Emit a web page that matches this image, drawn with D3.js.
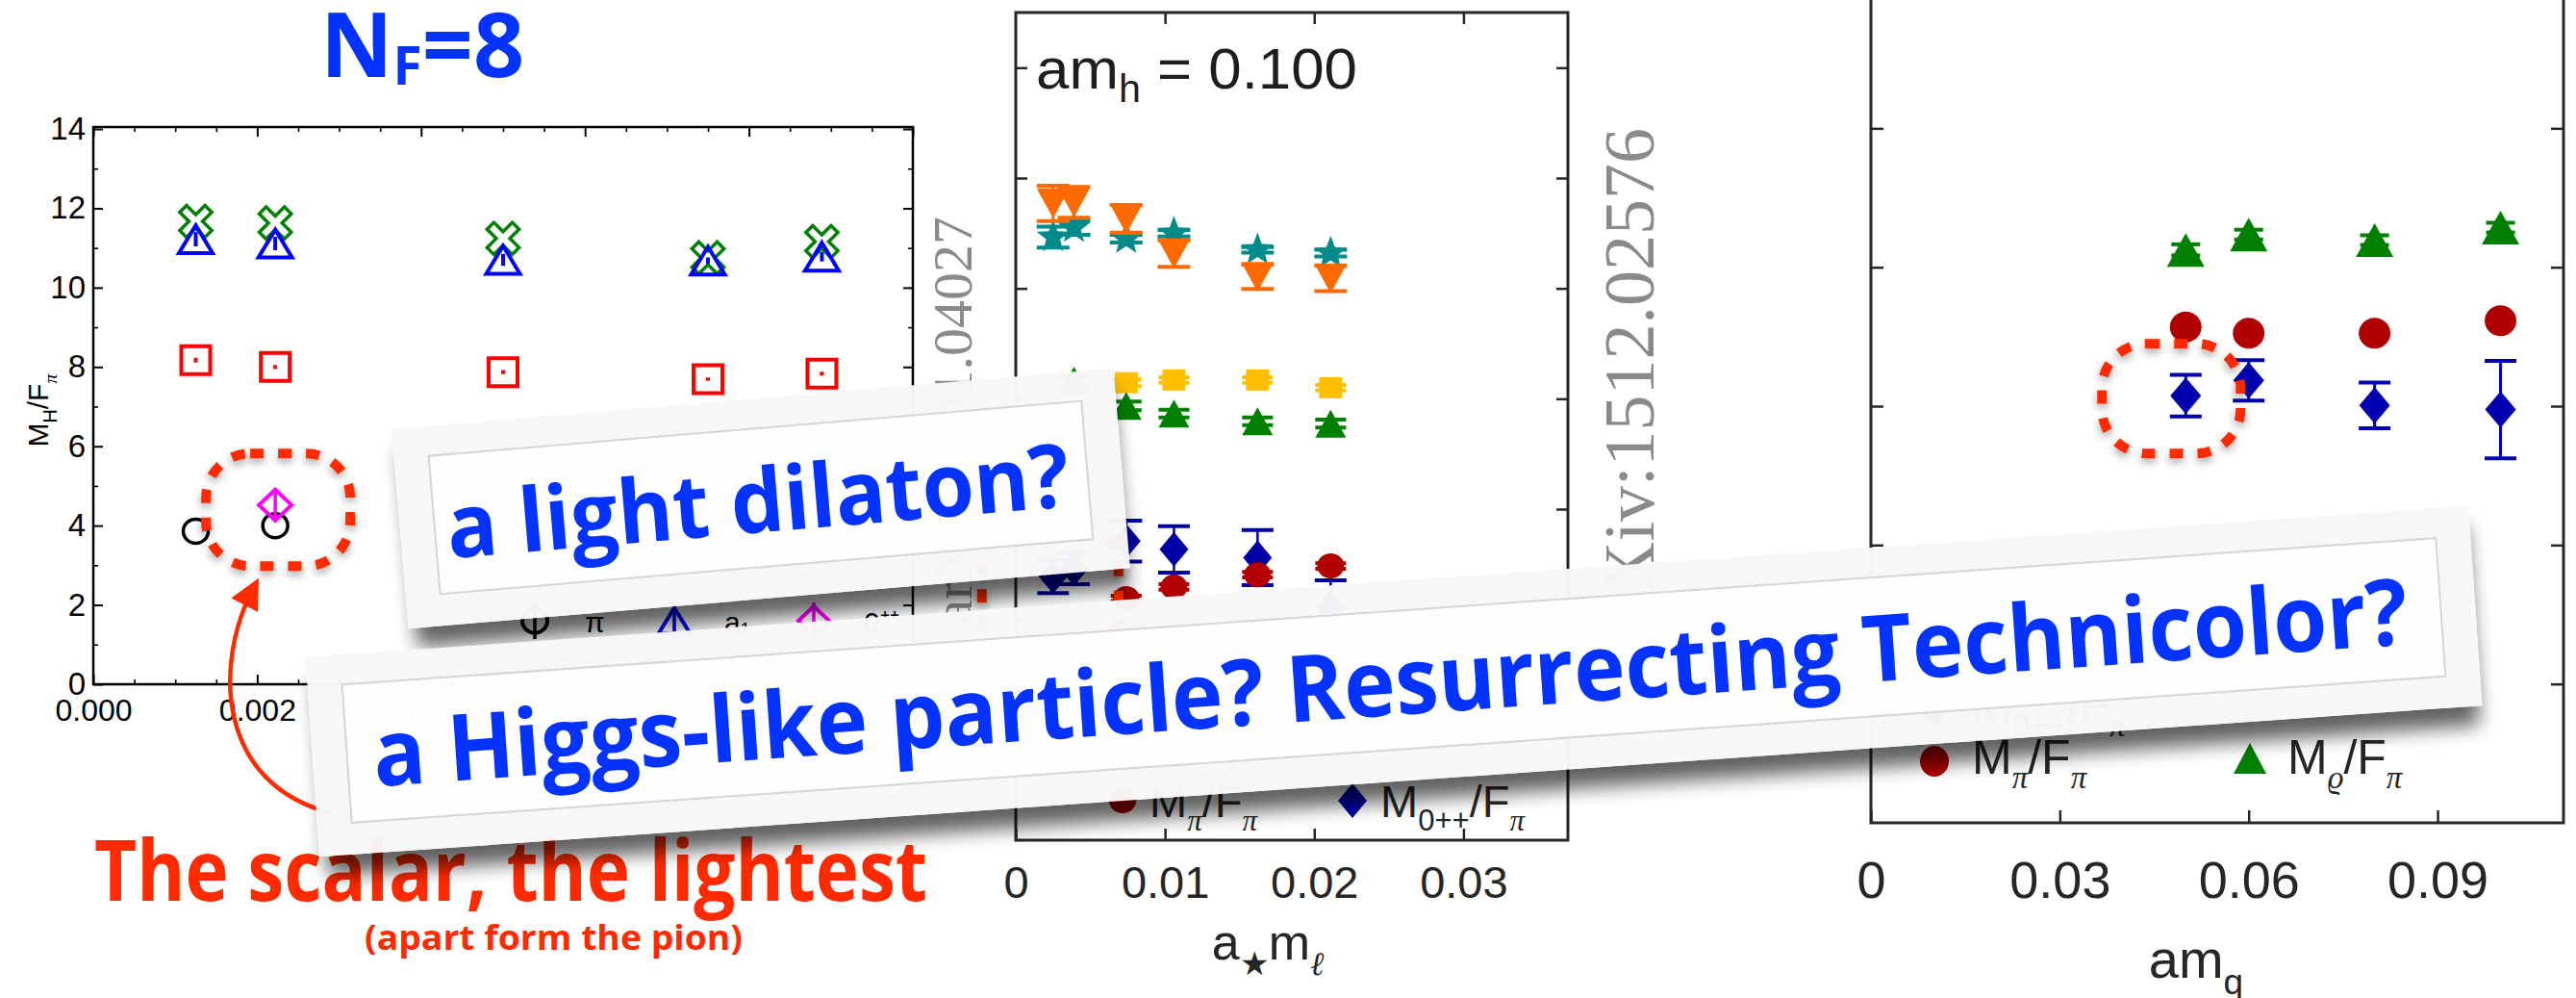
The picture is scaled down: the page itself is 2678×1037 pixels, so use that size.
<!DOCTYPE html>
<html>
<head>
<meta charset="utf-8">
<title>A light scalar in near-conformal gauge theories</title>
<script src="https://cdn.jsdelivr.net/npm/d3@7/dist/d3.min.js"></script>
<style>
  html, body { margin: 0; padding: 0; background: #ffffff; overflow: hidden; }
  svg { display: block; }
</style>
</head>
<body>
<svg id="slide" width="2678" height="1037" viewBox="0 0 2678 1037"></svg>
<script>
// ---------- N_F = 8 spectrum: M_H / F_pi versus quark mass ----------
const nf8Mass       = [0.00125, 0.00222, 0.005, 0.0075, 0.00889];
const nf8Pion       = [3.86, 4.00, null, null, null];
const nf8Scalar     = [null, 4.52, null, null, null];
const nf8ScalarErr  = [null, 0.42, null, null, null];
const nf8Rho        = [8.17, 8.00, 7.87, 7.69, 7.83];
const nf8RhoErr     = [0.06, 0.05, 0.05, 0.04, 0.05];
const nf8A1         = [11.22, 11.11, 10.70, 10.68, 10.78];
const nf8A1Err      = [0.18, 0.17, 0.15, 0.08, 0.12];
const nf8Nucleon    = [11.67, 11.63, 11.24, 10.75, 11.16];
const nf8XTicks     = [0, 0.002, 0.004, 0.006, 0.008, 0.010];
const nf8XMinor     = [0.0005, 0.001, 0.0015, 0.0025, 0.003, 0.0035, 0.0045, 0.005, 0.0055,
                       0.0065, 0.007, 0.0075, 0.0085, 0.009, 0.0095];
const nf8YTicks     = [0, 2, 4, 6, 8, 10, 12, 14];
const nf8YMinor     = [1, 3, 5, 7, 9, 11, 13];
const nf8LegendText = ["π", "a₁", "0⁺⁺"];

// ---------- 4+8 flavours at am_h = 0.100: ratios versus a*m_l ----------
const lsdHeavyMass   = "0.100";
const lsdMass        = [0.0025, 0.0039, 0.0074, 0.0106, 0.0162, 0.0211];
const lsdOrange      = [11.54, 11.56, 11.26, 10.63, 10.21, 10.18];
const lsdOrangeErr   = [0.32, 0.28, 0.25, 0.24, 0.22, 0.23];
const lsdTeal        = [10.93, 11.10, 10.90, 11.00, 10.70, 10.64];
const lsdTealErr     = [0.19, 0.13, 0.07, 0.06, 0.05, 0.06];
const lsdYellow      = [null, null, 8.29, 8.34, 8.34, 8.20];
const lsdYellowErr   = [null, null, 0.06, 0.05, 0.05, 0.05];
const lsdGreen       = [null, 8.33, 7.87, 7.73, 7.59, 7.55];
const lsdGreenErr    = [null, 0.08, 0.08, 0.07, 0.07, 0.07];
const lsdPion        = [null, null, 4.38, 4.59, 4.81, 4.97];
const lsdPionErr     = [null, null, 0.05, 0.05, 0.05, 0.05];
const lsdScalar      = [4.78, 4.92, 5.42, 5.27, 5.12, 4.21];
const lsdScalarErr   = [0.30, 0.28, 0.37, 0.42, 0.50, 0.50];
const lsdXTicks      = [0, 0.01, 0.02, 0.03];
const lsdYTicks      = [2, 4, 6, 8, 10, 12, 14];

// ---------- sextet model: M / F_pi versus am_q ----------
const sxtMass      = [0.05, 0.06, 0.08, 0.10];
const sxtRho       = [8.25, 8.47, 8.39, 8.57];
const sxtRhoErr    = [0.08, 0.07, 0.07, 0.07];
const sxtPion      = [7.14, 7.05, 7.05, 7.23];
const sxtScalar    = [6.15, 6.37, 6.01, 5.95];
const sxtScalarErr = [0.30, 0.29, 0.33, 0.70];
const sxtXTicks    = [0, 0.03, 0.06, 0.09];
const sxtYTicks    = [2, 4, 6, 8, 10];

// ---------- shared helpers ----------
const svg = d3.select("#slide");
const defs = svg.append("defs");
const SANS = "'Liberation Sans', Arial, sans-serif";
const NARROW = "'Liberation Sans Narrow', 'Liberation Sans', sans-serif";
const SERIF = "'Liberation Serif', 'DejaVu Serif', serif";
const HUMAN = "'Open Sans', 'Noto Sans', sans-serif";
const RED = "#ff2a00";
const BLUE_TXT = "#0433ff";

const halo = defs.append("filter").attr("id", "haloShadow")
  .attr("x", "-30%").attr("y", "-30%").attr("width", "160%").attr("height", "160%");
halo.append("feDropShadow").attr("dx", 0).attr("dy", 4).attr("stdDeviation", 5)
  .attr("flood-color", "#000").attr("flood-opacity", 0.38);

const cardBlur = defs.append("filter").attr("id", "cardBlur")
  .attr("x", "-5%").attr("y", "-40%").attr("width", "110%").attr("height", "180%");
cardBlur.append("feGaussianBlur").attr("stdDeviation", 10);

defs.append("marker").attr("id", "arrowHead")
  .attr("viewBox", "0 0 10 10").attr("refX", 6).attr("refY", 5)
  .attr("markerWidth", 7).attr("markerHeight", 7).attr("orient", "auto")
  .append("path").attr("d", "M0,0 L10,5 L0,10 z").attr("fill", RED);

function poly(pts) {
  return "M" + pts.map(p => p[0].toFixed(2) + "," + p[1].toFixed(2)).join("L") + "Z";
}
const shape = {
  triUp:   (w, h) => poly([[0, -h / 2], [w / 2, h / 2], [-w / 2, h / 2]]),
  triDown: (w, h) => poly([[0, h / 2], [w / 2, -h / 2], [-w / 2, -h / 2]]),
  diamond: (w, h) => poly([[0, -h / 2], [w / 2, 0], [0, h / 2], [-w / 2, 0]]),
  rect:    (w, h) => poly([[-w / 2, -h / 2], [w / 2, -h / 2], [w / 2, h / 2], [-w / 2, h / 2]]),
  ellipse: (rx, ry) => `M${-rx},0A${rx},${ry} 0 1,0 ${rx},0A${rx},${ry} 0 1,0 ${-rx},0Z`,
  star: (R) => {
    const pts = [];
    for (let i = 0; i < 10; i++) {
      const r = i % 2 ? R * 0.42 : R, a = -Math.PI / 2 + i * Math.PI / 5;
      pts.push([r * Math.cos(a), r * Math.sin(a)]);
    }
    return poly(pts);
  },
  // an "x" drawn as an outlined cross turned by 45 degrees
  xCross: (L, a) => {
    const base = [[a, a], [a, L], [-a, L], [-a, a], [-L, a], [-L, -a], [-a, -a], [-a, -L], [a, -L], [a, -a], [L, -a], [L, a]];
    const c = Math.SQRT1_2;
    return poly(base.map(([x, y]) => [c * (x - y), c * (x + y)]));
  }
};

function drawSeries(g, xs, ys, xv, yv, ev, o) {
  const pts = xv.map((x, i) => ({ x, y: yv[i], e: ev ? ev[i] : 0 })).filter(d => d.y != null);
  const s = g.append("g");
  const errColor = o.errColor || o.color;
  const drawErr = () => {
    if (!ev) return;
    s.selectAll(null).data(pts).join("line")
      .attr("x1", d => xs(d.x)).attr("x2", d => xs(d.x))
      .attr("y1", d => ys(d.y - d.e)).attr("y2", d => ys(d.y + d.e))
      .attr("stroke", errColor).attr("stroke-width", o.stemW || 2.5);
    if (o.capW) {
      [-1, 1].forEach(sign => {
        s.selectAll(null).data(pts).join("line")
          .attr("x1", d => xs(d.x) - o.capW / 2).attr("x2", d => xs(d.x) + o.capW / 2)
          .attr("y1", d => ys(d.y + sign * d.e)).attr("y2", d => ys(d.y + sign * d.e))
          .attr("stroke", errColor).attr("stroke-width", o.capT || 4);
      });
    }
  };
  if (!o.errOnTop) drawErr();
  s.selectAll(null).data(pts).join("path")
    .attr("transform", d => `translate(${xs(d.x)},${ys(d.y)})`)
    .attr("d", o.path)
    .attr("fill", o.fill || "none")
    .attr("stroke", o.stroke || "none")
    .attr("stroke-width", o.sw || 0)
    .attr("stroke-linejoin", "miter");
  if (o.errOnTop) drawErr();
}

// text made of plain runs, subscripts and superscripts
function richText(g, x, y, parts, fs, opt = {}) {
  const t = g.append("text").attr("x", x).attr("y", y)
    .attr("font-size", fs).attr("font-family", opt.family || SANS)
    .attr("fill", opt.fill || "#1a1a1a").attr("text-anchor", opt.anchor || "start");
  let shift = 0;
  parts.forEach(([str, kind]) => {
    const sp = t.append("tspan").text(str);
    let target = 0;
    if (kind === "sub") { target = fs * 0.3; sp.attr("font-size", fs * 0.66); }
    if (kind === "sup") { target = -fs * 0.4; sp.attr("font-size", fs * 0.66); }
    if (target - shift !== 0) sp.attr("dy", target - shift);
    shift = target;
    if (/[πϱℓ]/.test(str)) sp.attr("font-family", SERIF).attr("font-style", "italic");
  });
  return t;
}

function styleAxis(sel, color, width, fs, family) {
  sel.select(".domain").remove();
  sel.selectAll("line").attr("stroke", color).attr("stroke-width", width);
  sel.selectAll("text").attr("fill", color).attr("font-size", fs).attr("font-family", family);
}

// =====================================================================
// Left panel: N_F = 8
// =====================================================================
const gL = svg.append("g").attr("class", "panel-nf8");
const lx = d3.scaleLinear().domain([0, 0.010]).range([97, 949]);
const ly = d3.scaleLinear().domain([0, 14]).range([711, 134]);
const lTop = 132;

gL.append("text").attr("x", 333).attr("y", 80)
  .attr("font-family", HUMAN).attr("font-weight", 700).attr("font-size", 93).attr("fill", BLUE_TXT)
  .call(t => {
    t.append("tspan").text("N");
    t.append("tspan").text("F").attr("font-size", 55).attr("dy", 8);
    t.append("tspan").text("=8").attr("dy", -8);
  });

gL.append("rect").attr("x", lx(0)).attr("y", lTop)
  .attr("width", lx(0.010) - lx(0)).attr("height", ly(0) - lTop)
  .attr("fill", "none").attr("stroke", "#000").attr("stroke-width", 2.5);

gL.append("g").attr("transform", `translate(0,${ly(0)})`)
  .call(d3.axisBottom(lx).tickValues(nf8XTicks).tickFormat(d3.format(".3f")).tickSize(-10).tickPadding(15))
  .call(s => styleAxis(s, "#000", 2, 32, SANS));
gL.append("g").attr("transform", `translate(0,${ly(0)})`)
  .call(d3.axisBottom(lx).tickValues(nf8XMinor).tickFormat("").tickSize(-5))
  .call(s => styleAxis(s, "#000", 1.6, 32, SANS));
gL.append("g").attr("transform", `translate(0,${lTop})`)
  .call(d3.axisTop(lx).tickValues(nf8XTicks).tickFormat("").tickSize(-10))
  .call(s => styleAxis(s, "#000", 2, 32, SANS));
gL.append("g").attr("transform", `translate(0,${lTop})`)
  .call(d3.axisTop(lx).tickValues(nf8XMinor).tickFormat("").tickSize(-5))
  .call(s => styleAxis(s, "#000", 1.6, 32, SANS));
gL.append("g").attr("transform", `translate(${lx(0)},0)`)
  .call(d3.axisLeft(ly).tickValues(nf8YTicks).tickSize(-10).tickPadding(8))
  .call(s => styleAxis(s, "#000", 2, 33, SANS));
gL.append("g").attr("transform", `translate(${lx(0)},0)`)
  .call(d3.axisLeft(ly).tickValues(nf8YMinor).tickFormat("").tickSize(-5))
  .call(s => styleAxis(s, "#000", 1.6, 33, SANS));
gL.append("g").attr("transform", `translate(${lx(0.010)},0)`)
  .call(d3.axisRight(ly).tickValues(nf8YTicks).tickFormat("").tickSize(-10))
  .call(s => styleAxis(s, "#000", 2, 33, SANS));
gL.append("g").attr("transform", `translate(${lx(0.010)},0)`)
  .call(d3.axisRight(ly).tickValues(nf8YMinor).tickFormat("").tickSize(-5))
  .call(s => styleAxis(s, "#000", 1.6, 33, SANS));

richText(gL.append("g").attr("transform", `translate(50,${ly(6.9)}) rotate(-90)`), 0, 0,
  [["M"], ["H", "sub"], ["/F"], ["π", "sub"]], 30, { anchor: "middle", fill: "#000" });

drawSeries(gL, lx, ly, nf8Mass, nf8Rho, nf8RhoErr,
  { color: "#ff0000", path: shape.rect(30, 29), stroke: "#ff0000", sw: 4, stemW: 4 });
drawSeries(gL, lx, ly, nf8Mass, nf8Nucleon, null,
  { color: "#008000", path: shape.xCross(18.5, 5), stroke: "#008000", sw: 3.5 });
drawSeries(gL, lx, ly, nf8Mass, nf8A1, nf8A1Err,
  { color: "#0000ff", path: shape.triUp(35, 29), stroke: "#0000ff", sw: 4, stemW: 4 });
drawSeries(gL, lx, ly, nf8Mass, nf8Pion, null,
  { color: "#000", path: shape.ellipse(13, 12.5), stroke: "#000", sw: 3.5 });
drawSeries(gL, lx, ly, nf8Mass, nf8Scalar, nf8ScalarErr,
  { color: "#ff00ff", path: shape.diamond(34, 32), stroke: "#ff00ff", sw: 4, stemW: 3.5 });

// legend row
const lLeg = gL.append("g").attr("transform", "translate(0,645)");
const lLegItems = [
  { x: 556, path: shape.ellipse(13, 12.5), color: "#000" },
  { x: 701, path: shape.triUp(33, 27), color: "#0000ff" },
  { x: 846, path: shape.diamond(32, 30), color: "#ff00ff" }
];
lLegItems.forEach((it, i) => {
  lLeg.append("line").attr("x1", it.x).attr("x2", it.x).attr("y1", -19).attr("y2", 19)
    .attr("stroke", it.color).attr("stroke-width", 3.5);
  lLeg.append("path").attr("transform", `translate(${it.x},0)`).attr("d", it.path)
    .attr("fill", "none").attr("stroke", it.color).attr("stroke-width", 4);
  lLeg.append("text").attr("x", it.x + 52).attr("y", 12).attr("font-family", SANS)
    .attr("font-size", 30).attr("fill", "#000").text(nf8LegendText[i]);
});

// =====================================================================
// Middle panel: am_h = 0.100
// =====================================================================
const gM = svg.append("g").attr("class", "panel-lsd");
const mx = d3.scaleLinear().domain([0, 0.037]).range([1056, 1630]);
const my = d3.scaleLinear().domain([0, 15]).range([873, 13]);
const INK = "#262626";

gM.append("rect").attr("x", mx(0)).attr("y", my(15))
  .attr("width", mx(0.037) - mx(0)).attr("height", my(0) - my(15))
  .attr("fill", "none").attr("stroke", INK).attr("stroke-width", 3);
gM.append("g").attr("transform", `translate(0,${my(0)})`)
  .call(d3.axisBottom(mx).tickValues(lsdXTicks).tickFormat(d => d === 0 ? "0" : d3.format(".2f")(d))
    .tickSize(-12).tickPadding(27))
  .call(s => styleAxis(s, INK, 2.5, 47, SANS));
gM.append("g").attr("transform", `translate(0,${my(15)})`)
  .call(d3.axisTop(mx).tickValues(lsdXTicks.slice(1)).tickFormat("").tickSize(-12))
  .call(s => styleAxis(s, INK, 2.5, 47, SANS));
gM.append("g").attr("transform", `translate(${mx(0)},0)`)
  .call(d3.axisLeft(my).tickValues(lsdYTicks).tickFormat("").tickSize(-12))
  .call(s => styleAxis(s, INK, 2.5, 47, SANS));
gM.append("g").attr("transform", `translate(${mx(0.037)},0)`)
  .call(d3.axisRight(my).tickValues(lsdYTicks).tickFormat("").tickSize(-12))
  .call(s => styleAxis(s, INK, 2.5, 47, SANS));

gM.append("text").attr("x", 1077).attr("y", 92).attr("font-family", SANS).attr("font-size", 60)
  .attr("fill", "#1e1e1e").attr("textLength", 334).attr("lengthAdjust", "spacingAndGlyphs")
  .call(t => {
    t.append("tspan").text("am");
    t.append("tspan").text("h").attr("font-size", 40).attr("dy", 14);
    t.append("tspan").text(" = " + lsdHeavyMass).attr("dy", -14);
  });

richText(gM, 1318, 997, [["a"], ["★", "sub"], ["m"], ["ℓ", "sub"]], 52, { anchor: "middle", fill: INK });

drawSeries(gM, mx, my, lsdMass, lsdYellow, lsdYellowErr,
  { color: "#ffbf00", path: shape.rect(24, 22), fill: "#ffbf00", capW: 32, capT: 4, stemW: 3 });
drawSeries(gM, mx, my, lsdMass, lsdGreen, lsdGreenErr,
  { color: "#007f00", path: shape.triUp(32, 29), fill: "#007f00", capW: 32, capT: 4, stemW: 3 });
drawSeries(gM, mx, my, lsdMass, lsdTeal, lsdTealErr,
  { color: "#008b8b", path: shape.star(18), fill: "#008b8b", capW: 34, capT: 4, stemW: 3, errOnTop: true });
drawSeries(gM, mx, my, lsdMass, lsdOrange, lsdOrangeErr,
  { color: "#ff6a00", path: shape.triDown(34, 31), fill: "#ff6a00", capW: 34, capT: 4, stemW: 3 });
drawSeries(gM, mx, my, lsdMass, lsdScalar, lsdScalarErr,
  { color: "#0000a6", path: shape.diamond(30, 36), fill: "#0000a6", capW: 33, capT: 4, stemW: 2.5 });
drawSeries(gM, mx, my, lsdMass, lsdPion, lsdPionErr,
  { color: "#b30000", path: shape.ellipse(14, 13), fill: "#b30000", capW: 32, capT: 4, stemW: 3 });

const mLeg = gM.append("g");
mLeg.append("path").attr("transform", "translate(1167,832)").attr("d", shape.ellipse(14, 13)).attr("fill", "#b30000");
richText(mLeg, 1195, 849, [["M"], ["π", "sub"], ["/"], ["F"], ["π", "sub"]], 47, { fill: INK });
mLeg.append("path").attr("transform", "translate(1406,832)").attr("d", shape.diamond(30, 36)).attr("fill", "#0000a6");
richText(mLeg, 1435, 849, [["M"], ["0++", "sub"], ["/"], ["F"], ["π", "sub"]], 47, { fill: INK });

// =====================================================================
// Right panel: sextet fermions
// =====================================================================
const gR = svg.append("g").attr("class", "panel-sextet");
const rx = d3.scaleLinear().domain([0, 0.11]).range([1945, 2665]);
const ry = d3.scaleLinear().domain([0, 12]).range([855, -11]);

gR.append("rect").attr("x", rx(0)).attr("y", ry(12))
  .attr("width", rx(0.11) - rx(0)).attr("height", ry(0) - ry(12))
  .attr("fill", "none").attr("stroke", INK).attr("stroke-width", 3);
gR.append("g").attr("transform", `translate(0,${ry(0)})`)
  .call(d3.axisBottom(rx).tickValues(sxtXTicks).tickFormat(d => d === 0 ? "0" : d3.format(".2f")(d))
    .tickSize(-13).tickPadding(40))
  .call(s => styleAxis(s, INK, 2.5, 54, NARROW));
gR.append("g").attr("transform", `translate(${rx(0)},0)`)
  .call(d3.axisLeft(ry).tickValues(sxtYTicks).tickFormat("").tickSize(-13))
  .call(s => styleAxis(s, INK, 2.5, 54, NARROW));
gR.append("g").attr("transform", `translate(${rx(0.11)},0)`)
  .call(d3.axisRight(ry).tickValues(sxtYTicks).tickFormat("").tickSize(-13))
  .call(s => styleAxis(s, INK, 2.5, 54, NARROW));

richText(gR, 2283, 1016, [["am"], ["q", "sub"]], 56, { anchor: "middle", fill: INK, family: NARROW });

drawSeries(gR, rx, ry, sxtMass, sxtRho, sxtRhoErr,
  { color: "#007f00", path: shape.triUp(39, 35), fill: "#007f00", capW: 30, capT: 4, stemW: 3 });
drawSeries(gR, rx, ry, sxtMass, sxtPion, null,
  { color: "#b00000", path: shape.ellipse(16.5, 16), fill: "#b00000" });
drawSeries(gR, rx, ry, sxtMass, sxtScalar, sxtScalarErr,
  { color: "#0000b0", path: shape.diamond(32, 38), fill: "#0000b0", capW: 33, capT: 4, stemW: 3 });

const rLeg = gR.append("g");
rLeg.append("path").attr("transform", "translate(2011,738)").attr("d", shape.diamond(26, 34)).attr("fill", "#0000b0");
richText(rLeg, 2050, 750, [["M"], ["0++", "sub"], ["/"], ["F"], ["π", "sub"]], 50, { fill: INK, family: NARROW });
rLeg.append("path").attr("transform", "translate(2011,791)").attr("d", shape.ellipse(15, 16)).attr("fill", "#b00000");
richText(rLeg, 2050, 804, [["M"], ["π", "sub"], ["/"], ["F"], ["π", "sub"]], 50, { fill: INK, family: NARROW });
rLeg.append("path").attr("transform", "translate(2339,788)").attr("d", shape.triUp(34, 32)).attr("fill", "#007f00");
richText(rLeg, 2378, 804, [["M"], ["ϱ", "sub"], ["/"], ["F"], ["π", "sub"]], 50, { fill: INK, family: NARROW });

// =====================================================================
// arXiv stamps along the panel edges
// =====================================================================
svg.append("text").attr("transform", "translate(1010,225) rotate(-90)")
  .attr("text-anchor", "end").attr("font-family", SERIF).attr("font-size", 58)
  .attr("fill", "#8a8a8a").text("arXiv:1601.04027");
svg.append("text").attr("transform", "translate(1719,133) rotate(-90)")
  .attr("text-anchor", "end").attr("font-family", SERIF).attr("font-size", 74)
  .attr("fill", "#8a8a8a").text("arXiv:1512.02576");

// =====================================================================
// Dashed highlights around the light scalar
// =====================================================================
const hl = svg.append("g").attr("class", "highlights");
function dashedBox(cx, cy, w, h) {
  hl.append("rect").attr("x", cx - w / 2).attr("y", cy - h / 2).attr("width", w).attr("height", h)
    .attr("rx", 46).attr("ry", 46).attr("fill", "none")
    .attr("stroke", RED).attr("stroke-width", 10).attr("stroke-dasharray", "14 15")
    .attr("filter", "url(#haloShadow)");
}
dashedBox(lx(nf8Mass[1]) + 3, ly(nf8Scalar[1]) + 5, 150, 117);
dashedBox(mx(lsdMass[0]) - 3, my(lsdScalar[0]) + 16, 142, 140);
dashedBox(rx(sxtMass[0]) - 15, ry(sxtScalar[0]) + 3, 144, 114);

// caption with arrow pointing at the scalar
const cap = svg.append("g").attr("class", "caption");
cap.append("path").attr("d", "M345,845 C225,815 222,690 263,612")
  .attr("fill", "none").attr("stroke", RED).attr("stroke-width", 4.5)
  .attr("marker-end", "url(#arrowHead)");
cap.append("text").attr("x", 98).attr("y", 936).attr("font-family", HUMAN).attr("font-weight", 700)
  .attr("font-size", 88).attr("fill", RED).attr("textLength", 866).attr("lengthAdjust", "spacingAndGlyphs")
  .text("The scalar, the lightest");
cap.append("text").attr("x", 379).attr("y", 987).attr("font-family", HUMAN).attr("font-weight", 700)
  .attr("font-size", 36).attr("fill", RED).attr("textLength", 393).attr("lengthAdjust", "spacingAndGlyphs")
  .text("(apart form the pion)");

// =====================================================================
// Tilted paper cards
// =====================================================================
function card(id, cx, cy, w, h, angle, label, fs, tx, tw) {
  const g = svg.append("g").attr("class", "card").attr("transform", `translate(${cx},${cy}) rotate(${angle})`);
  const pad = 220;
  const m = defs.append("mask").attr("id", id).attr("maskUnits", "userSpaceOnUse")
    .attr("x", -w / 2 - pad).attr("y", -h / 2 - pad).attr("width", w + 2 * pad).attr("height", h + 2 * pad);
  m.append("rect").attr("x", -w / 2 - pad).attr("y", -h / 2 - pad)
    .attr("width", w + 2 * pad).attr("height", h + 2 * pad).attr("fill", "#fff");
  m.append("rect").attr("x", -w / 2).attr("y", -h / 2).attr("width", w).attr("height", h).attr("fill", "#000");
  g.append("rect").attr("x", -w / 2 + 8).attr("y", -h / 2 + 20).attr("width", w - 12).attr("height", h)
    .attr("fill", "#000").attr("opacity", 0.62).attr("filter", "url(#cardBlur)").attr("mask", `url(#${id})`);
  g.append("rect").attr("x", -w / 2).attr("y", -h / 2).attr("width", w).attr("height", h)
    .attr("fill", "#f7f7f7").attr("fill-opacity", 0.975);
  g.append("rect").attr("x", -w / 2 + 36).attr("y", -h / 2 + 31).attr("width", w - 72).attr("height", h - 64)
    .attr("fill", "#ffffff").attr("fill-opacity", 0.8).attr("stroke", "#d5d5d5").attr("stroke-width", 2);
  g.append("text").attr("x", tx).attr("y", 35).attr("font-family", HUMAN).attr("font-weight", 700)
    .attr("font-size", fs).attr("fill", BLUE_TXT).attr("textLength", tw).attr("lengthAdjust", "spacingAndGlyphs")
    .text(label);
}
card("cardMaskA", 791, 518, 753, 208, -4.8, "a light dilaton?", 92, -328, 649);
card("cardMaskB", 1449, 708, 2254, 208, -4.0, "a Higgs-like particle? Resurrecting Technicolor?", 96, -1064, 2120);
</script>
</body>
</html>
